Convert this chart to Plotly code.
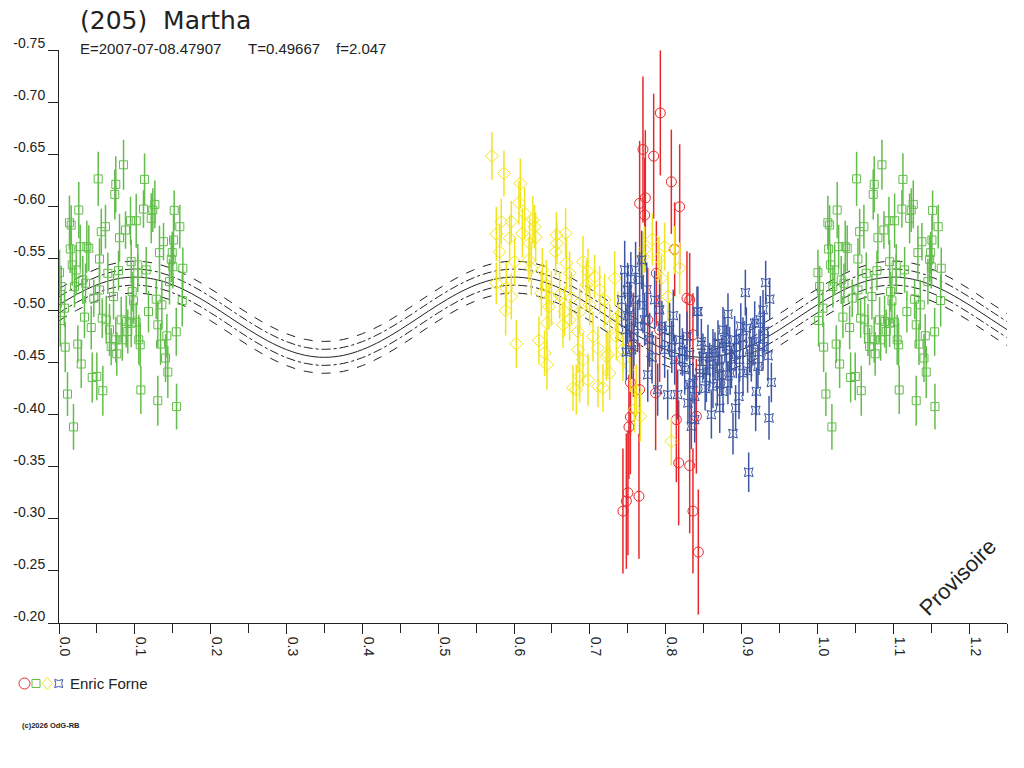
import plotly.graph_objects as go

# ---------------- data ----------------
green_phase = [0.0007,0.0029,0.0016,0.0073,0.0082,0.0112,0.0138,0.0161,0.0148,0.0174,
               0.0191,0.0227,0.0248,0.0261,0.0280,0.0293,0.0336,0.0350,0.0367,0.0393,
               0.0425,0.0438,0.0459,0.0499,0.0517,0.0534,0.0557,0.0570,0.0578,0.0613,
               0.0623,0.0644,0.0666,0.0688,0.0719,0.0736,0.0749,0.0762,0.0785,0.0798,
               0.0820,0.0834,0.0851,0.0877,0.0886,0.0907,0.0943,0.0965,0.0983,0.1018,
               0.1039,0.1052,0.1071,0.1079,0.1114,0.1128,0.1150,0.1180,0.1216,0.1237,
               0.1264,0.1282,0.1303,0.1325,0.1339,0.1356,0.1378,0.1405,0.1422,0.1435,
               0.1480,0.1493,0.1510,0.1519,0.1546,0.1550,0.1593,0.1625,0.1633,0.1303,
               0.0749,0.1018,0.0952,0.0952,0.0204,0.0534,0.1039,0.1457,0.1501,0.0314]
green_mag = [-0.5363,-0.5229,-0.4903,-0.5022,-0.4648,-0.4198,-0.5842,-0.5820,-0.5590,-0.5437,
             -0.3882,-0.5389,-0.4677,-0.5964,-0.5612,-0.4486,-0.4936,-0.5261,-0.5612,-0.5597,
             -0.4836,-0.4357,-0.5118,-0.4367,-0.6263,-0.5494,-0.5756,-0.4926,-0.4230,-0.5804,
             -0.4910,-0.5357,-0.4814,-0.4654,-0.5133,-0.6114,-0.6210,-0.4584,-0.5382,-0.5698,
             -0.4910,-0.4718,-0.6398,-0.5772,-0.4894,-0.4798,-0.5861,-0.5181,-0.5092,-0.5861,
             -0.5437,-0.4718,-0.4670,-0.4237,-0.5973,-0.6258,-0.5389,-0.4989,-0.5884,-0.5964,
             -0.6018,-0.5108,-0.4862,-0.5555,-0.4677,-0.5054,-0.5660,-0.4543,-0.4757,-0.4409,
             -0.5491,-0.5555,-0.5676,-0.5961,-0.4795,-0.4077,-0.5804,-0.5095,-0.5405,-0.4134,
             -0.4718,-0.4888,-0.4878,-0.5468,-0.5229,-0.5197,-0.5357,-0.5277,-0.5420,-0.5293]
green_err = [0.022,0.020,0.025,0.018,0.024,0.021,0.026,0.019,0.023,0.020,
             0.022,0.024,0.018,0.027,0.021,0.023,0.020,0.019,0.025,0.022,
             0.021,0.024,0.018,0.023,0.026,0.020,0.022,0.019,0.024,0.021,
             0.023,0.020,0.025,0.018,0.022,0.024,0.027,0.021,0.019,0.023,
             0.022,0.020,0.024,0.018,0.025,0.021,0.023,0.019,0.022,0.026,
             0.020,0.024,0.021,0.023,0.018,0.025,0.022,0.020,0.024,0.021,
             0.023,0.019,0.022,0.026,0.020,0.024,0.018,0.023,0.021,0.025,
             0.022,0.020,0.024,0.019,0.023,0.022,0.021,0.025,0.020,0.024,
             0.022,0.019,0.023,0.021,0.020,0.024,0.018,0.022,0.021,0.023]

yellow_phase = [0.5708,0.5867,0.6083,0.6065,0.5766,0.5832,0.5964,0.6140,0.6109,0.6271,
                0.6285,0.5942,0.5810,0.6008,0.5766,0.5898,0.5964,0.5889,0.6030,0.6196,
                0.6228,0.6558,0.6680,0.6566,0.6548,0.6689,0.6373,0.6426,0.6360,0.6492,
                0.6601,0.6733,0.6755,0.6460,0.6667,0.6733,0.6328,0.6434,0.6403,0.6434,
                0.6909,0.6975,0.7063,0.6953,0.7129,0.7327,0.6865,0.6997,0.7195,0.6843,
                0.7041,0.6843,0.6909,0.7106,0.7217,0.6975,0.6777,0.6821,0.7106,0.7172,
                0.6865,0.7261,0.7370,0.7436,0.7349,0.7261,0.6645,0.6206,0.6249,0.7824,
                0.7722,0.7700,0.7911,0.7986,0.8184,0.7942,0.8030,0.8118,0.7238,0.7530,
                0.7613,0.7590,0.7665,0.8074,0.7436]
yellow_mag = [-0.6481,-0.6315,-0.6219,-0.6034,-0.5734,-0.5852,-0.5852,-0.5932,-0.5740,-0.5804,
              -0.5702,-0.5693,-0.5564,-0.5468,-0.5261,-0.5214,-0.5133,-0.4999,-0.4680,-0.5485,
              -0.5405,-0.5724,-0.5740,-0.5645,-0.5564,-0.5453,-0.5389,-0.5245,-0.5166,-0.5118,
              -0.5149,-0.5357,-0.5118,-0.5037,-0.4989,-0.4910,-0.4712,-0.4878,-0.4591,-0.4479,
              -0.5468,-0.5373,-0.5325,-0.5245,-0.5197,-0.5309,-0.4989,-0.5054,-0.5102,-0.4798,
              -0.4750,-0.4623,-0.4527,-0.4639,-0.4558,-0.4335,-0.4256,-0.4240,-0.4271,-0.4256,
              -0.4367,-0.4846,-0.4942,-0.4623,-0.4750,-0.4399,-0.4862,-0.5645,-0.5868,-0.5683,
              -0.5587,-0.5516,-0.5501,-0.5612,-0.5405,-0.5309,-0.5133,-0.5580,-0.4575,-0.4460,
              -0.4230,-0.4048,-0.3984,-0.3744,-0.4534]
yellow_err = [0.023,0.022,0.024,0.021,0.026,0.022,0.020,0.025,0.023,0.021,
              0.024,0.022,0.027,0.023,0.020,0.025,0.022,0.024,0.023,0.021,
              0.026,0.022,0.024,0.020,0.023,0.025,0.021,0.024,0.022,0.026,
              0.023,0.021,0.025,0.022,0.024,0.020,0.023,0.026,0.022,0.024,
              0.025,0.022,0.021,0.024,0.023,0.026,0.022,0.020,0.025,0.023,
              0.024,0.022,0.026,0.021,0.023,0.025,0.022,0.024,0.020,0.023,
              0.025,0.022,0.024,0.021,0.023,0.026,0.022,0.024,0.023,0.025,
              0.022,0.024,0.021,0.023,0.025,0.022,0.024,0.023,0.021,0.024,
              0.025,0.022,0.024,0.023,0.021]

red_phase = [0.7929,0.7700,0.7841,0.8074,0.7731,0.7656,0.8184,0.7722,0.8118,0.8280,
             0.8359,0.7877,0.7534,0.7656,0.7867,0.7534,0.7515,0.8140,0.8404,0.8171,
             0.8316,0.7502,0.7481,0.7647,0.7436,0.8359,0.8430,0.7574,0.7920,0.8316,
             0.7763]
red_mag = [-0.6896,-0.6545,-0.6481,-0.6235,-0.6081,-0.6028,-0.5995,-0.5916,-0.5587,-0.5118,
           -0.4766,-0.5357,-0.4309,-0.4240,-0.4208,-0.3978,-0.3882,-0.3952,-0.3984,-0.3537,
           -0.3511,-0.3250,-0.3170,-0.3217,-0.3074,-0.3074,-0.2681,-0.4670,-0.4814,-0.5102,
           -0.4910]
red_err = [0.060,0.070,0.060,0.050,0.065,0.060,0.060,0.055,0.045,0.045,
           0.040,0.050,0.050,0.045,0.055,0.055,0.050,0.060,0.055,0.060,
           0.065,0.060,0.065,0.060,0.060,0.060,0.060,0.050,0.050,0.045,
           0.050]

blue_phase = [0.9318,0.9371,0.9050,0.9283,0.8425,0.8821,0.9248,0.9173,0.8755,0.9063,
              0.9349,0.8975,0.8623,0.8866,0.8491,0.9216,0.9393,0.9195,0.8966,0.8755,
              0.8623,0.8712,0.8922,0.9186,0.8602,0.9362,0.8338,0.8887,0.9094,0.8557,
              0.8689,0.8800,0.8909,0.9019,0.9107,0.8712,0.8448,0.8536,0.8359,0.8843,
              0.9129,0.9283,0.9019,0.8293,0.8382,0.7459,0.7498,0.7524,0.7472,0.7551,
              0.7603,0.7656,0.7722,0.7788,0.7854,0.7920,0.7986,0.8052,0.8118,0.8184,
              0.8250,0.8316,0.7763,0.7894,0.8026,0.7603,0.7683,0.7419,0.8316,0.8158,
              0.8382,0.8412,0.8470,0.8580,0.8650,0.8740,0.8780,0.8850,0.8930,0.8990,
              0.9080,0.9150,0.9230,0.9300,0.8520,0.8680,0.8820,0.7500,0.7540,0.7580,
              0.7630,0.7700,0.7750,0.7820,0.7950,0.8080,0.8220,0.8280,0.8100,0.7480]
blue_mag = [-0.5267,-0.5108,-0.5171,-0.5006,-0.4989,-0.4965,-0.4910,-0.4878,-0.4814,-0.4830,
            -0.4565,-0.4527,-0.4591,-0.4463,-0.4558,-0.4463,-0.4309,-0.4223,-0.4175,-0.4223,
            -0.4271,-0.4064,-0.4064,-0.4041,-0.4000,-0.3968,-0.3888,-0.3818,-0.3447,-0.4623,
            -0.4687,-0.4654,-0.4718,-0.4734,-0.4623,-0.4463,-0.4399,-0.4351,-0.4304,-0.4623,
            -0.4527,-0.4654,-0.4399,-0.4112,-0.4175,-0.5389,-0.5197,-0.5006,-0.4814,-0.4623,
            -0.5102,-0.5293,-0.4910,-0.4718,-0.5102,-0.5006,-0.4623,-0.4814,-0.4527,-0.4718,
            -0.4431,-0.4575,-0.4383,-0.4240,-0.4192,-0.5389,-0.5485,-0.5102,-0.4288,-0.4192,
            -0.3952,-0.4989,-0.4700,-0.4480,-0.4560,-0.4380,-0.4720,-0.4400,-0.4580,-0.4850,
            -0.4420,-0.4700,-0.4600,-0.4800,-0.4250,-0.4300,-0.4300,-0.4950,-0.5300,-0.4750,
            -0.4850,-0.5050,-0.5200,-0.4550,-0.4850,-0.4650,-0.4600,-0.4750,-0.4950,-0.4600]
blue_err = [0.021,0.020,0.022,0.019,0.024,0.020,0.023,0.021,0.022,0.020,
            0.024,0.021,0.023,0.020,0.022,0.021,0.019,0.023,0.022,0.020,
            0.021,0.024,0.022,0.020,0.023,0.021,0.022,0.020,0.019,0.024,
            0.022,0.021,0.023,0.020,0.022,0.024,0.021,0.023,0.020,0.022,
            0.021,0.023,0.022,0.020,0.021,0.028,0.026,0.027,0.025,0.028,
            0.026,0.027,0.025,0.026,0.028,0.025,0.027,0.026,0.024,0.025,
            0.024,0.023,0.026,0.025,0.024,0.027,0.028,0.026,0.023,0.024,
            0.022,0.024,0.022,0.021,0.023,0.020,0.022,0.021,0.023,0.022,
            0.021,0.023,0.022,0.020,0.021,0.022,0.020,0.027,0.026,0.028,
            0.025,0.027,0.026,0.025,0.024,0.025,0.023,0.024,0.025,0.027]

fit_phase = [0.000,0.025,0.050,0.075,0.100,0.125,0.150,0.175,0.200,0.225,
             0.250,0.275,0.300,0.325,0.350,0.375,0.400,0.425,0.450,0.475,
             0.500,0.525,0.550,0.575,0.600,0.625,0.650,0.675,0.700,0.725,
             0.750,0.775,0.800,0.825,0.850,0.875,0.900,0.925,0.950,0.975,
             1.000,1.025,1.050,1.075,1.100,1.125,1.150,1.175,1.200,1.225,1.250]
fit_mag = [-0.5054,-0.5161,-0.5246,-0.5301,-0.5320,-0.5301,-0.5246,-0.5161,-0.5054,-0.4935,
           -0.4816,-0.4709,-0.4624,-0.4569,-0.4550,-0.4569,-0.4624,-0.4709,-0.4816,-0.4935,
           -0.5054,-0.5161,-0.5246,-0.5301,-0.5320,-0.5301,-0.5246,-0.5161,-0.5054,-0.4935,
           -0.4816,-0.4709,-0.4624,-0.4569,-0.4550,-0.4569,-0.4624,-0.4709,-0.4816,-0.4935,
           -0.5054,-0.5161,-0.5246,-0.5301,-0.5320,-0.5301,-0.5246,-0.5161,-0.5054,-0.4935,-0.4816]
band_inner = 0.0077
band_outer = 0.0153

y_tickvals = [-0.75,-0.70,-0.65,-0.60,-0.55,-0.50,-0.45,-0.40,-0.35,-0.30,-0.25,-0.20]
y_ticktext = ["-0.75","-0.70","-0.65","-0.60","-0.55","-0.50","-0.45","-0.40","-0.35","-0.30","-0.25","-0.20"]
x_tickvals = [0.0,0.1,0.2,0.3,0.4,0.5,0.6,0.7,0.8,0.9,1.0,1.1,1.2]
x_ticktext = ["0.0","0.1","0.2","0.3","0.4","0.5","0.6","0.7","0.8","0.9","1.0","1.1","1.2"]

# ---------------- styling ----------------
RED = "#e8282c"
GREEN = "#62bd4a"
YELLOW = "#f2e41c"
BLUE = "#3c55a5"
INK = "#222222"
FONT = "Liberation Sans, Arial, sans-serif"

W, H = 1024, 768
ML, MR, MT, MB = 59, 17, 50, 145
PW, PH = W - ML - MR, H - MT - MB


def px(xp):
    return (xp - ML) / PW


def py(yp):
    return (H - MB - yp) / PH


fig = go.Figure()

# fit curve and bands
for off, dash in [(-band_outer, "dash"), (-band_inner, "dashdot"), (0.0, "solid"),
                  (band_inner, "dashdot"), (band_outer, "dash")]:
    fig.add_trace(go.Scatter(
        x=fit_phase, y=[m + off for m in fit_mag], mode="lines",
        line=dict(color=INK, width=1, dash=dash, shape="spline"),
        hoverinfo="skip", showlegend=False))


def add_series(xs, ys, errs, color, symbol, size):
    fig.add_trace(go.Scatter(
        x=xs, y=ys, mode="markers",
        marker=dict(symbol=symbol, size=size, color=color, line=dict(width=1, color=color)),
        error_y=dict(type="data", array=errs, color=color, thickness=1.5, width=0),
        showlegend=False))


add_series(red_phase, red_mag, red_err, RED, "circle-open", 10)
add_series(green_phase, green_mag, green_err, GREEN, "square-open", 8)
add_series([p + 1 for p in green_phase], green_mag, green_err, GREEN, "square-open", 8)
add_series(yellow_phase, yellow_mag, yellow_err, YELLOW, "diamond-open", 10)
add_series(blue_phase, blue_mag, blue_err, BLUE, "star-square-open", 8)

annotations = [
    dict(text="(205)&nbsp;&nbsp;Martha", x=px(78), y=py(20), xanchor="left", yanchor="middle",
         font=dict(family="DejaVu Sans, sans-serif", size=25, color=INK)),
    dict(text="E=2007-07-08.47907", x=px(78), y=py(48.5), xanchor="left", yanchor="middle",
         font=dict(family=FONT, size=15, color=INK)),
    dict(text="T=0.49667", x=px(246), y=py(48.5), xanchor="left", yanchor="middle",
         font=dict(family=FONT, size=15, color=INK)),
    dict(text="f=2.047", x=px(334), y=py(48.5), xanchor="left", yanchor="middle",
         font=dict(family=FONT, size=15, color=INK)),
    dict(text="Provisoire", x=px(957.5), y=py(577.5), xanchor="center", yanchor="middle",
         textangle=-45, font=dict(family=FONT, size=22, color=INK)),
    dict(text="Enric Forne", x=px(68), y=py(683.5), xanchor="left", yanchor="middle",
         font=dict(family=FONT, size=15, color=INK)),
    dict(text="<b>(c)2026 OdG-RB</b>", x=px(20), y=py(725), xanchor="left", yanchor="middle",
         font=dict(family=FONT, size=7.5, color=INK)),
]
for a in annotations:
    a.update(xref="paper", yref="paper", showarrow=False)

shapes = [
    dict(type="circle", xanchor=px(24.5), yanchor=py(683.5), x0=-5.5, x1=5.5, y0=-5.5, y1=5.5,
         line=dict(color=RED, width=1)),
    dict(type="rect", xanchor=px(36), yanchor=py(683.5), x0=-4, x1=4, y0=-4, y1=4,
         line=dict(color=GREEN, width=1)),
    dict(type="path", xanchor=px(47.3), yanchor=py(683.5),
         path="M 0,6 L 5,0 L 0,-6 L -5,0 Z", line=dict(color=YELLOW, width=1)),
    dict(type="path", xanchor=px(58.7), yanchor=py(683.5),
         path="M -4,-4 Q 0,-2 4,-4 Q 2,0 4,4 Q 0,2 -4,4 Q -2,0 -4,-4 Z",
         line=dict(color=BLUE, width=1)),
]
for s in shapes:
    s.update(xref="paper", yref="paper", xsizemode="pixel", ysizemode="pixel")

fig.update_layout(
    width=W, height=H, margin=dict(l=ML, r=MR, t=MT, b=MB, pad=0),
    paper_bgcolor="white", plot_bgcolor="white",
    font=dict(family=FONT, size=14, color=INK),
    showlegend=False, annotations=annotations, shapes=shapes,
    xaxis=dict(range=[0, 1.25], showgrid=False, zeroline=False, showline=True,
               linecolor=INK, linewidth=1, ticks="outside", ticklen=10, tickcolor=INK,
               tickvals=x_tickvals, ticktext=x_ticktext, tickangle=90,
               ticklabelshift=6, tickfont=dict(size=14, color=INK),
               minor=dict(dtick=0.05, tick0=0, ticks="outside", ticklen=9, tickcolor=INK)),
    yaxis=dict(range=[-0.20, -0.75], showgrid=False, zeroline=False, showline=True,
               linecolor=INK, linewidth=1, ticks="outside", ticklen=10, tickcolor=INK,
               tickvals=y_tickvals, ticktext=y_ticktext, ticklabelshift=7,
               ticklabelstandoff=0, tickfont=dict(size=14, color=INK)),
)

fig.write_html("out.html", config={"displayModeBar": False},
               post_script="document.body.style.margin='0';")
